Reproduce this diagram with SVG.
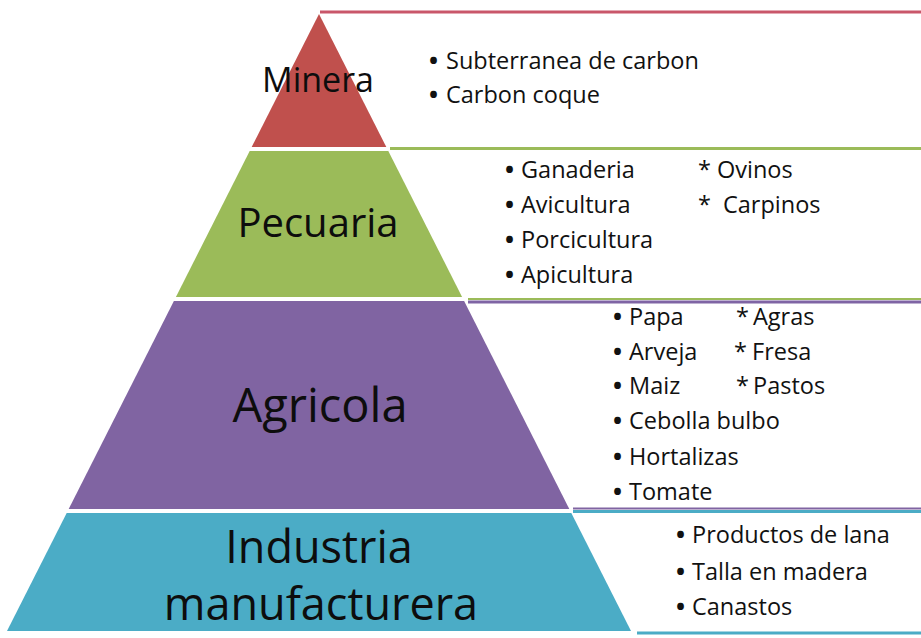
<svg xmlns="http://www.w3.org/2000/svg" width="921" height="638" viewBox="0 0 921 638">
<style>
.lbl{font-family:"Open Sans","Noto Sans","Liberation Sans",sans-serif;fill:#0d0d0d;text-anchor:middle}
.lst{font-family:"Open Sans","Noto Sans","Liberation Sans",sans-serif;font-size:23.5px;fill:#111111}
.b{font-size:24px;font-weight:bold}
.ln{fill:none;stroke-width:3}
</style>
<rect width="921" height="638" fill="#ffffff"/>
<g id="lines">
<line class="ln" x1="320" y1="12" x2="921" y2="12" stroke="#c9576a"/>
<line class="ln" x1="390" y1="148.5" x2="921" y2="148.5" stroke="#9bbb59"/>
<line x1="468" y1="299" x2="921" y2="299" stroke="#9bbb59" stroke-width="2"/>
<line x1="468" y1="302" x2="921" y2="302" stroke="#7f64a4" stroke-width="3"/>
<line x1="573" y1="508.5" x2="921" y2="508.5" stroke="#8064a2" stroke-width="2"/>
<line x1="573" y1="511.5" x2="921" y2="511.5" stroke="#4bacc6" stroke-width="3"/>
<line class="ln" x1="637" y1="633" x2="921" y2="633" stroke="#4bacc6"/>
</g>
<g id="minera">
<polygon points="319,14 386.3,147 251.7,147" fill="#c0504d"/>
<text class="lbl" x="318" y="92" font-size="34">Minera</text>
<text class="lst"><tspan class="b" x="429" y="69">•</tspan><tspan x="446" y="69">Subterranea de carbon</tspan><tspan class="b" x="429" y="103">•</tspan><tspan x="446" y="103">Carbon coque</tspan></text>
</g>
<g id="pecuaria">
<polygon points="249.7,151 388.3,151 462.1,297 175.9,297" fill="#9bbb59"/>
<text class="lbl" x="318" y="237" font-size="40">Pecuaria</text>
<text class="lst"><tspan class="b" x="505" y="178">•</tspan><tspan x="521" y="178">Ganaderia</tspan><tspan class="b" x="505" y="213">•</tspan><tspan x="521" y="213">Avicultura</tspan><tspan class="b" x="505" y="248">•</tspan><tspan x="521" y="248">Porcicultura</tspan><tspan class="b" x="505" y="283">•</tspan><tspan x="521" y="283">Apicultura</tspan><tspan x="698" y="178">*</tspan><tspan x="717" y="178">Ovinos</tspan><tspan x="698" y="213">*</tspan><tspan x="723" y="213">Carpinos</tspan></text>
</g>
<g id="agricola">
<polygon points="173.9,301 464.1,301 569.3,509 68.7,509" fill="#8064a2"/>
<text class="lbl" x="320" y="422" font-size="47">Agricola</text>
<text class="lst"><tspan class="b" x="613" y="325">•</tspan><tspan x="629" y="325">Papa</tspan><tspan class="b" x="613" y="360">•</tspan><tspan x="629" y="360">Arveja</tspan><tspan class="b" x="613" y="394">•</tspan><tspan x="629" y="394">Maiz</tspan><tspan class="b" x="613" y="429">•</tspan><tspan x="629" y="429">Cebolla bulbo</tspan><tspan class="b" x="613" y="465">•</tspan><tspan x="629" y="465">Hortalizas</tspan><tspan class="b" x="613" y="500">•</tspan><tspan x="629" y="500">Tomate</tspan><tspan x="736" y="325">*</tspan><tspan x="753" y="325">Agras</tspan><tspan x="734" y="360">*</tspan><tspan x="752" y="360">Fresa</tspan><tspan x="736" y="394">*</tspan><tspan x="753" y="394">Pastos</tspan></text>
</g>
<g id="industria">
<polygon points="66.7,513 571.3,513 631,631 7,631" fill="#4bacc6"/>
<text class="lbl" x="319" y="563" font-size="45">Industria</text>
<text class="lbl" x="321" y="620" font-size="45">manufacturera</text>
<text class="lst"><tspan class="b" x="676" y="543">•</tspan><tspan x="692" y="543">Productos de lana</tspan><tspan class="b" x="676" y="580">•</tspan><tspan x="692" y="580">Talla en madera</tspan><tspan class="b" x="676" y="615">•</tspan><tspan x="692" y="615">Canastos</tspan></text>
</g>
</svg>
